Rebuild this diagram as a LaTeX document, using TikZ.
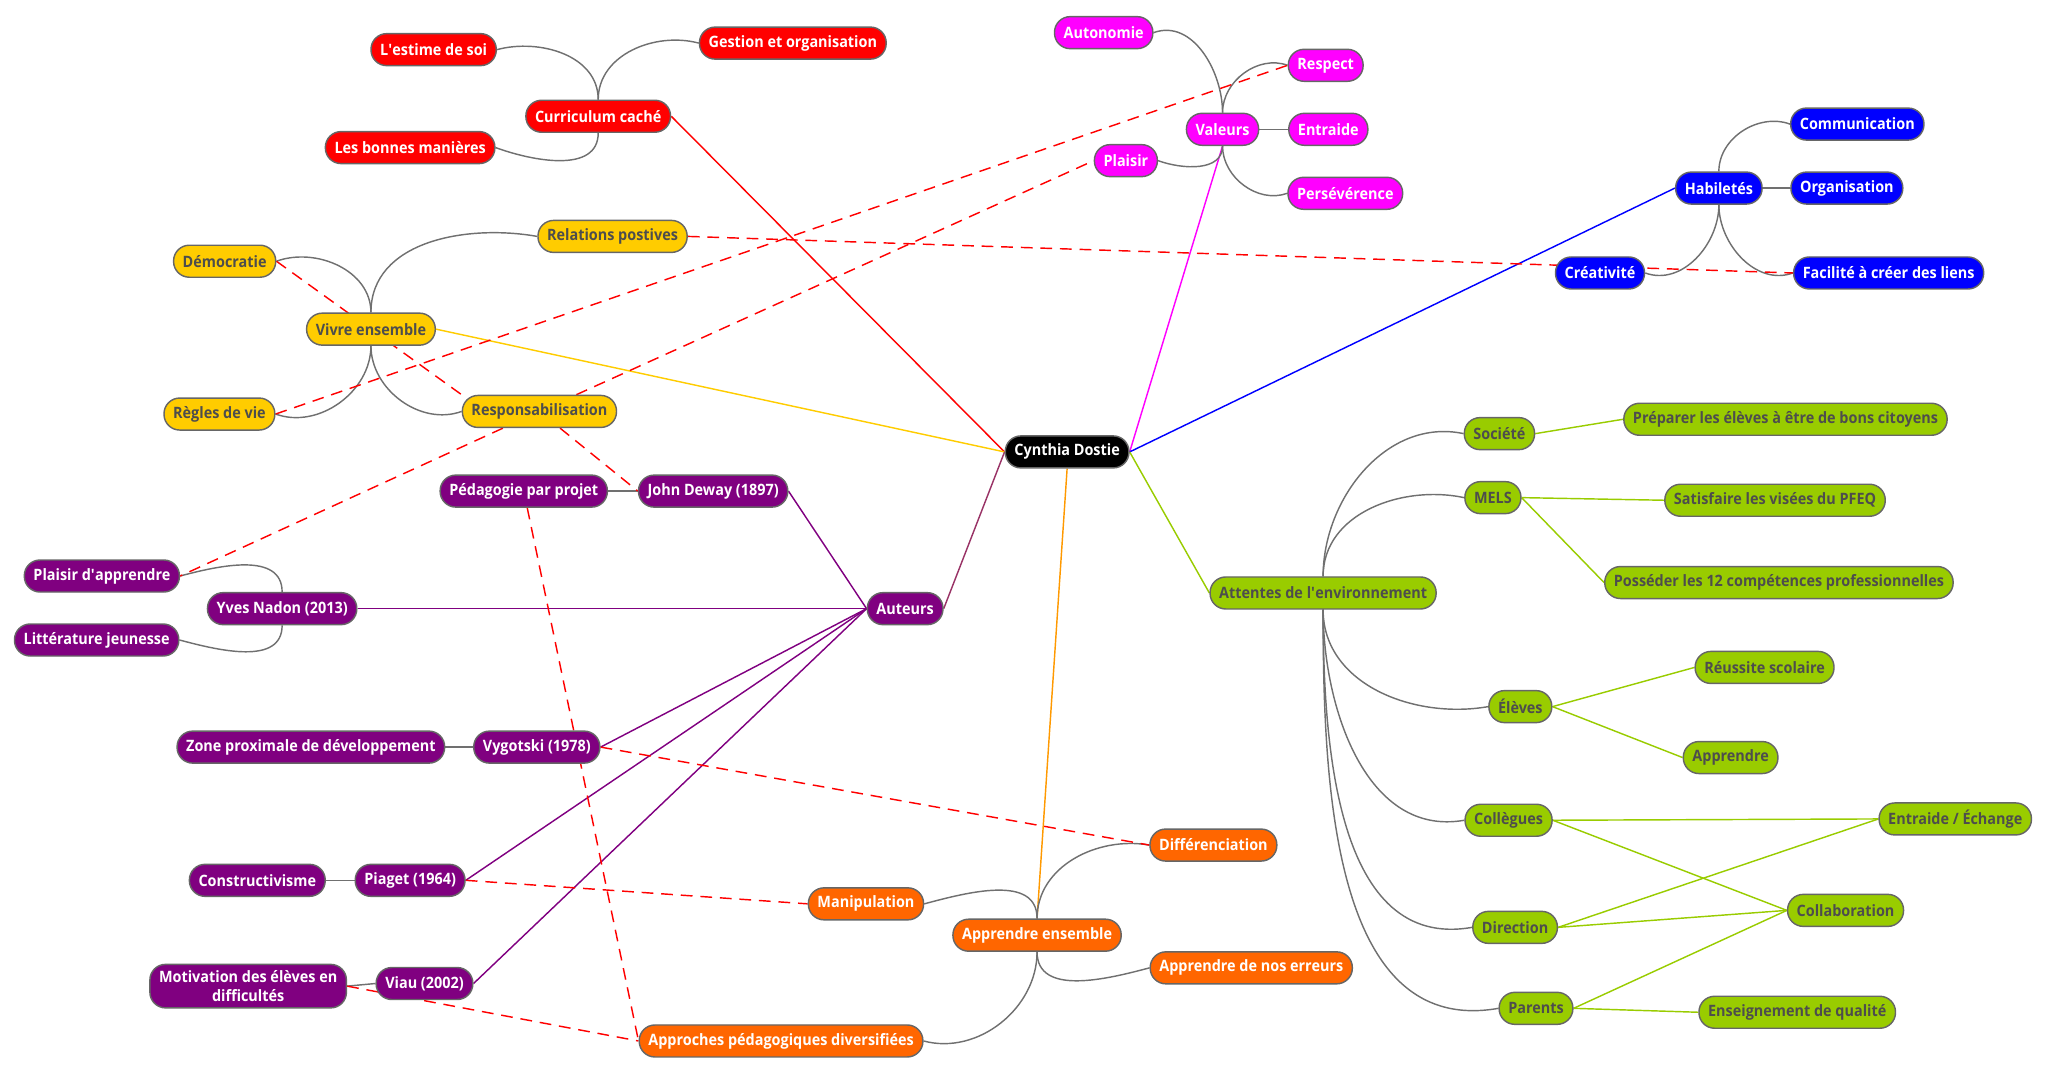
\documentclass[tikz,border=0pt]{standalone}
\usepackage{fontspec}
\setmainfont{Open Sans}[FakeStretch=0.92]
\usetikzlibrary{backgrounds}

\definecolor{xred}{HTML}{FF0000}
\definecolor{xpink}{HTML}{FF00FF}
\definecolor{xblue}{HTML}{0000FF}
\definecolor{xyellow}{HTML}{FFCC00}
\definecolor{xpurple}{HTML}{800080}
\definecolor{xorange}{HTML}{FF6600}
\definecolor{xgreen}{HTML}{99CC00}
\definecolor{xmaroon}{HTML}{993366}
\definecolor{xamber}{HTML}{FF9900}
\definecolor{boxline}{HTML}{666666}
\definecolor{branchgray}{HTML}{707070}
\definecolor{darktext}{HTML}{4D4D4D}

\tikzset{
  topic/.style={draw=boxline, line width=1.1pt, rounded corners=12pt,
    minimum height=24.5pt, inner xsep=7pt, inner ysep=1pt, align=center,
    font=\fontsize{12}{14}\selectfont\bfseries},
  roottopic/.style={topic, fill=black, text=white},
  redtopic/.style={topic, fill=xred, text=white},
  pinktopic/.style={topic, fill=xpink, text=white},
  bluetopic/.style={topic, fill=xblue, text=white},
  yellowtopic/.style={topic, fill=xyellow, text=darktext},
  purpletopic/.style={topic, fill=xpurple, text=white},
  orangetopic/.style={topic, fill=xorange, text=white},
  greentopic/.style={topic, fill=xgreen, text=darktext},
  branch/.style={draw=branchgray, line width=1.1pt},
  link/.style={draw=xred, line width=1.1pt, dash pattern=on 9pt off 6pt},
}

\begin{document}
\begin{tikzpicture}[x=1pt,y=1pt]
    \useasboundingbox (0,0) rectangle (1568,-821);

    \node (cd) [roottopic] at (817,-346) {Cynthia Dostie};

    \node (cc) [redtopic] at (458,-89) {Curriculum caché};
    \node (estime) [redtopic] at (332,-38) {L\textquotesingle estime de soi};
    \node (gestion) [redtopic] at (607,-33) {Gestion et organisation};
    \node (manieres) [redtopic] at (314,-113) {Les bonnes manières};

    \node (val) [pinktopic] at (936,-99) {Valeurs};
    \node (auto) [pinktopic] at (845,-25) {Autonomie};
    \node (respect) [pinktopic] at (1015,-50) {Respect};
    \node (entraide) [pinktopic] at (1017,-99) {Entraide};
    \node (plaisir) [pinktopic] at (862,-123) {Plaisir};
    \node (perse) [pinktopic] at (1030,-148) {Persévérence};

    \node (hab) [bluetopic] at (1316,-144) {Habiletés};
    \node (comm) [bluetopic] at (1422,-95) {Communication};
    \node (org) [bluetopic] at (1414,-144) {Organisation};
    \node (crea) [bluetopic] at (1225,-209) {Créativité};
    \node (liens) [bluetopic] at (1446,-209) {Facilité à créer des liens};

    \node (ve) [yellowtopic] at (284,-252) {Vivre ensemble};
    \node (relations) [yellowtopic] at (469,-181) {Relations postives};
    \node (demo) [yellowtopic] at (172,-200) {Démocratie};
    \node (regles) [yellowtopic] at (168,-317) {Règles de vie};
    \node (respons) [yellowtopic] at (413,-315) {Responsabilisation};

    \node (aut) [purpletopic] at (693,-466) {Auteurs};
    \node (dewey) [purpletopic] at (546,-376) {John Deway (1897)};
    \node (projet) [purpletopic] at (401,-376) {Pédagogie par projet};
    \node (nadon) [purpletopic] at (216,-466) {Yves Nadon (2013)};
    \node (plaisirapp) [purpletopic] at (78,-441) {Plaisir d\textquotesingle apprendre};
    \node (litt) [purpletopic] at (74,-490) {Littérature jeunesse};
    \node (vyg) [purpletopic] at (411,-572) {Vygotski (1978)};
    \node (zone) [purpletopic] at (238,-572) {Zone proximale de développement};
    \node (piaget) [purpletopic] at (314,-674) {Piaget (1964)};
    \node (constr) [purpletopic] at (197,-674) {Constructivisme};
    \node (viau) [purpletopic] at (325,-753) {Viau (2002)};
    \node (motiv) [purpletopic, inner ysep=5pt] at (190,-755) {Motivation des élèves en\\difficultés};

    \node (ae) [orangetopic] at (794,-716) {Apprendre ensemble};
    \node (manip) [orangetopic] at (663,-692) {Manipulation};
    \node (diff) [orangetopic] at (929,-647) {Différenciation};
    \node (erreurs) [orangetopic] at (958,-741) {Apprendre de nos erreurs};
    \node (approches) [orangetopic] at (598,-797) {Approches pédagogiques diversifiées};

    \node (att) [greentopic] at (1013,-454) {Attentes de l\textquotesingle environnement};
    \node (soc) [greentopic] at (1148,-332) {Société};
    \node (prep) [greentopic] at (1367,-321) {Préparer les élèves à être de bons citoyens};
    \node (mels) [greentopic] at (1143,-381) {MELS};
    \node (pfeq) [greentopic] at (1359,-383) {Satisfaire les visées du PFEQ};
    \node (comp) [greentopic] at (1362,-446) {Posséder les 12 compétences professionnelles};
    \node (eleves) [greentopic] at (1164,-541) {Élèves};
    \node (reussite) [greentopic] at (1351,-511) {Réussite scolaire};
    \node (apprendre) [greentopic] at (1325,-580) {Apprendre};
    \node (coll) [greentopic] at (1155,-628) {Collègues};
    \node (echange) [greentopic] at (1497,-627) {Entraide / Échange};
    \node (dir) [greentopic] at (1160,-710) {Direction};
    \node (collab) [greentopic] at (1413,-697) {Collaboration};
    \node (parents) [greentopic] at (1176,-772) {Parents};
    \node (qualite) [greentopic] at (1376,-775) {Enseignement de qualité};

    \begin{scope}[on background layer]
    \draw [line width=1.1pt, xred] (cd.west) -- (cc.east);
    \draw [line width=1.1pt, xyellow] (cd.west) -- (ve.east);
    \draw [line width=1.1pt, xmaroon] (cd.west) -- (aut.east);
    \draw [line width=1.1pt, xamber] (cd.south) -- (ae.north);
    \draw [line width=1.1pt, xpink] (cd.east) -- (val.south);
    \draw [line width=1.1pt, xblue] (cd.east) -- (hab.west);
    \draw [line width=1.1pt, xgreen] (cd.east) -- (att.west);

    \draw [branch] (cc.north) to[out=90,in=15] (estime.east);
    \draw [branch] (cc.north) to[out=90,in=165] (gestion.west);
    \draw [branch] (cc.south) to[out=-90,in=-20] (manieres.east);

    \draw [branch] (val.north) to[out=90,in=20] (auto.east);
    \draw [branch] (val.north) to[out=90,in=160] (respect.west);
    \draw [branch] (val.east) -- (entraide.west);
    \draw [branch] (val.south) to[out=-90,in=-20] (plaisir.east);
    \draw [branch] (val.south) to[out=-90,in=200] (perse.west);

    \draw [branch] (hab.north) to[out=90,in=160] (comm.west);
    \draw [branch] (hab.east) -- (org.west);
    \draw [branch] (hab.south) to[out=-90,in=-20] (crea.east);
    \draw [branch] (hab.south) to[out=-90,in=200] (liens.west);

    \draw [branch] (ve.north) to[out=90,in=20] (demo.east);
    \draw [branch] (ve.north) to[out=90,in=170] (relations.west);
    \draw [branch] (ve.south) to[out=-90,in=-20] (regles.east);
    \draw [branch] (ve.south) to[out=-90,in=200] (respons.west);

    \draw [line width=1.1pt, xpurple] (aut.west) -- (dewey.east);
    \draw [line width=1.1pt, xpurple] (aut.west) -- (nadon.east);
    \draw [line width=1.1pt, xpurple] (aut.west) -- (vyg.east);
    \draw [line width=1.1pt, xpurple] (aut.west) -- (piaget.east);
    \draw [line width=1.1pt, xpurple] (aut.west) -- (viau.east);
    \draw [branch] (dewey.west) -- (projet.east);
    \draw [branch] (nadon.north) to[out=90,in=15] (plaisirapp.east);
    \draw [branch] (nadon.south) to[out=-90,in=-15] (litt.east);
    \draw [branch] (vyg.west) -- (zone.east);
    \draw [branch] (piaget.west) -- (constr.east);
    \draw [branch] (viau.west) -- (motiv.east);

    \draw [branch] (ae.north) to[out=90,in=15] (manip.east);
    \draw [branch] (ae.north) to[out=90,in=170] (diff.west);
    \draw [branch] (ae.south) to[out=-90,in=195] (erreurs.west);
    \draw [branch] (ae.south) to[out=-90,in=-15] (approches.east);

    \draw [branch] (att.north) to[out=90,in=168] (soc.west);
    \draw [branch] (att.north) to[out=90,in=168] (mels.west);
    \draw [branch] (att.south) to[out=-90,in=190] (eleves.west);
    \draw [branch] (att.south) to[out=-90,in=190] (coll.west);
    \draw [branch] (att.south) to[out=-90,in=190] (dir.west);
    \draw [branch] (att.south) to[out=-90,in=190] (parents.west);

    \draw [line width=1.1pt, xgreen] (soc.east) -- (prep.west);
    \draw [line width=1.1pt, xgreen] (mels.east) -- (pfeq.west);
    \draw [line width=1.1pt, xgreen] (mels.east) -- (comp.west);
    \draw [line width=1.1pt, xgreen] (eleves.east) -- (reussite.west);
    \draw [line width=1.1pt, xgreen] (eleves.east) -- (apprendre.west);
    \draw [line width=1.1pt, xgreen] (coll.east) -- (echange.west);
    \draw [line width=1.1pt, xgreen] (coll.east) -- (collab.west);
    \draw [line width=1.1pt, xgreen] (dir.east) -- (echange.west);
    \draw [line width=1.1pt, xgreen] (dir.east) -- (collab.west);
    \draw [line width=1.1pt, xgreen] (parents.east) -- (collab.west);
    \draw [line width=1.1pt, xgreen] (parents.east) -- (qualite.west);

    \draw [link] (relations.east) -- (liens.west);
    \draw [link] (regles.east) -- (respect.west);
    \draw [link] (respons) -- (plaisir.west);
    \draw [link] (demo.east) -- (respons.north west);
    \draw [link] (respons) -- (plaisirapp.east);
    \draw [link] (respons) -- (dewey.west);
    \draw [link] (projet) -- (approches.west);
    \draw [link] (vyg.east) -- (diff.west);
    \draw [link] (piaget.east) -- (manip.west);
    \draw [link] (motiv.east) -- (approches.west);
    \end{scope}
\end{tikzpicture}
\end{document}
